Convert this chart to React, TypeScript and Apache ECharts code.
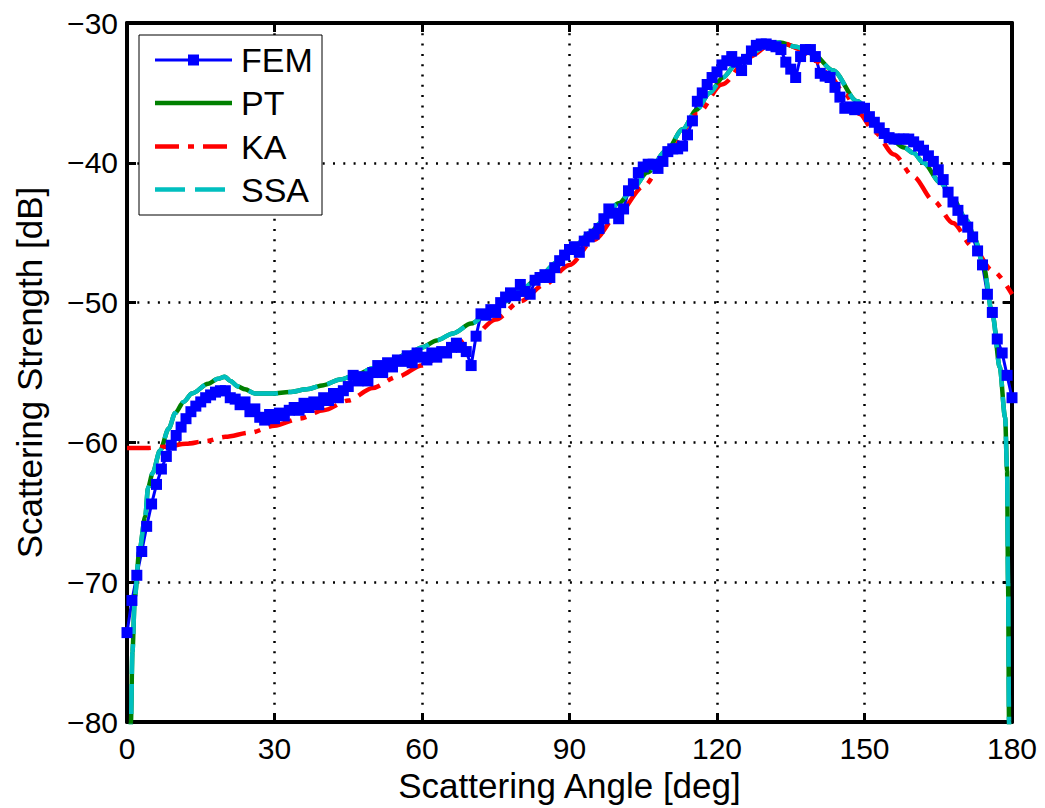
import React, { useEffect, useRef } from "react";
import * as echarts from "echarts";

// Scattering strength vs. scattering angle for four models.
const FONT = "'Liberation Sans', Arial, Helvetica, sans-serif";

const xTicks = [0, 30, 60, 90, 120, 150, 180];
const yTicks = [-80, -70, -60, -50, -40, -30];

// FEM: sampled every degree from 0 to 180
const femAngles: number[] = Array.from({ length: 181 }, (_, i) => i);
const femValues = [
  -73.6, -71.3, -69.5, -67.8, -66.0, -64.4, -63.0, -61.9, -61.0, -60.2,
  -59.5, -58.9, -58.3, -57.8, -57.4, -57.1, -56.8, -56.6, -56.4, -56.3,
  -56.3, -56.8, -56.9, -57.3, -57.1, -57.8, -57.6, -58.2, -58.4, -58.0,
  -58.3, -57.9, -58.1, -57.7, -57.5, -57.7, -57.2, -57.5, -57.1, -57.3,
  -56.8, -57.0, -56.5, -56.8, -56.3, -56.0, -55.2, -55.6, -55.3, -55.6,
  -55.0, -54.5, -55.0, -54.3, -54.6, -54.1, -54.2, -53.8, -54.3, -53.6,
  -53.9, -54.1, -53.6, -53.9, -53.5, -53.6, -53.2, -52.9, -53.2, -53.5,
  -54.5, -52.4, -50.8, -50.9, -50.5, -50.7, -50.0, -49.6, -49.3, -49.5,
  -48.7, -49.2, -49.4, -48.4, -48.2, -48.0, -48.2, -47.5, -47.0, -46.6,
  -46.2, -46.0, -46.4, -45.6, -45.3, -45.1, -44.7, -44.0, -43.3, -43.6,
  -44.0, -43.3, -42.0, -41.5, -40.7, -40.3, -40.1, -40.1, -40.4, -39.9,
  -39.2, -39.0, -39.0, -38.8, -38.0, -37.0, -35.6, -35.0, -34.4, -33.9,
  -33.5, -33.0, -32.7, -32.4, -32.8, -33.4, -32.6, -32.0, -31.6, -31.5,
  -31.5, -31.6, -31.7, -31.9, -32.8, -33.3, -33.9, -32.4, -31.9, -31.9,
  -32.4, -33.6, -33.8, -33.9, -34.6, -35.3, -36.1, -36.0, -36.2, -36.0,
  -36.1, -36.7, -37.1, -37.5, -37.9, -38.2, -38.3, -38.3, -38.3, -38.3,
  -38.5, -38.8, -39.1, -39.5, -39.9, -40.5, -41.2, -42.1, -42.8, -43.4,
  -44.1, -44.6, -45.3, -46.3, -47.3, -49.4, -50.7, -52.6, -53.6, -55.2,
  -56.8,
];

// PT (perturbation theory)
const ptAngles = [
  0.5, 0.8, 1.1, 1.6, 2.5, 3.7, 4.3, 5.2, 6.7, 8.5, 9.8, 11.5, 13.2, 16.5,
  18.5, 19.9, 21, 22.6, 24, 26, 29.7, 33, 36.6, 40, 43.3, 47, 50, 53.5, 56.9,
  60, 63, 66.3, 70, 73.8, 77, 80.5, 84, 87.5, 91, 94.2, 96.3, 100, 103, 105.8,
  109.8, 113, 115.9, 118.5, 121.2, 124, 127.3, 130, 132.8, 136, 139.5, 143.6,
  148.5, 153.8, 156, 158, 160, 162, 165.4, 168, 170.8, 172.5, 174.1, 176.1,
  177.5, 178.6, 179.0, 179.2, 179.4, 179.6,
];
const ptValues = [
  -88, -80, -75, -71, -67.8, -65.3, -63.2, -62.2, -60.6, -59.0, -57.9, -57.1,
  -56.5, -55.8, -55.45, -55.3, -55.6, -56.0, -56.2, -56.5, -56.5, -56.4,
  -56.2, -55.9, -55.5, -55.1, -54.7, -54.2, -53.7, -53.2, -52.7, -52.2, -51.5,
  -50.6, -49.9, -49.0, -48.1, -47.1, -46.0, -45.0, -44.3, -42.9, -41.8, -40.7,
  -39.1, -37.6, -36.2, -35.0, -33.9, -32.9, -32.1, -31.6, -31.4, -31.7, -32.2,
  -33.4, -35.6, -37.8, -38.5, -38.9, -39.3, -40.0, -41.4, -42.6, -44.1, -45.5,
  -47.2, -51.0, -54.6, -58.2, -62.0, -70.0, -80.0, -90.0,
];

// KA (Kirchhoff approximation)
const kaAngles = [
  0, 4, 8, 12, 16, 20, 25, 30, 35, 40, 45, 50, 55, 60, 65, 70, 75, 80, 85, 90,
  95, 100, 105, 110, 116, 121, 126.7, 131, 134, 137, 140, 143, 146, 149, 152,
  156, 160, 164, 168, 172, 176, 180,
];
const kaValues = [
  -60.4, -60.4, -60.3, -60.1, -59.9, -59.6, -59.3, -58.8, -58.3, -57.7, -57.0,
  -56.1, -55.3, -54.5, -53.5, -52.5, -51.2, -49.9, -48.7, -47.3, -45.5, -43.6,
  -41.7, -39.4, -36.5, -34.4, -32.4, -31.5, -31.5, -31.9, -32.7, -33.8, -35.1,
  -36.5, -37.8, -39.4, -41.0, -42.7, -44.3, -46.0, -47.7, -49.4,
];

// SSA (small slope approximation)
const ssaAngles = [...ptAngles];
const ssaValues = [
  -88, -80, -75, -71, -67.8, -65.3, -63.2, -62.2, -60.6, -59.0, -57.9, -57.1,
  -56.5, -55.8, -55.45, -55.3, -55.6, -56.0, -56.2, -56.5, -56.5, -56.4,
  -56.2, -55.9, -55.5, -55.1, -54.7, -54.2, -53.7, -53.2, -52.7, -52.2, -51.5,
  -50.6, -49.9, -49.0, -48.1, -47.1, -46.0, -45.0, -44.3, -42.9, -41.8, -40.7,
  -39.1, -37.6, -36.2, -35.0, -33.9, -32.9, -32.1, -31.6, -31.4, -31.7, -32.2,
  -33.4, -35.6, -37.8, -38.5, -38.9, -39.3, -40.0, -41.4, -42.6, -44.1, -45.5,
  -47.2, -51.0, -54.6, -58.2, -62.0, -70.0, -80.0, -90.0,
];

const legendNames = ["FEM", "PT", "KA", "SSA"];
const COLORS = { FEM: "#0000ff", PT: "#008000", KA: "#ff0000", SSA: "#00bfbf" };
const KA_DASH = [24, 9, 6, 9];
const SSA_DASH = [30, 10];
const CURVE_WIDTH = 4.5;

const pairs = (xs: number[], ys: number[]) => xs.map((x, i) => [x, ys[i]]);

const minus = (v: number) => (v < 0 ? "\u2212" + Math.abs(v) : String(v));

function boxAxis(position: string, isX: boolean, main: boolean): any {
  const ticks = isX ? xTicks : yTicks;
  return {
    type: "value",
    position,
    min: ticks[0],
    max: ticks[ticks.length - 1],
    interval: ticks[1] - ticks[0],
    axisLine: { show: true, onZero: false, lineStyle: { color: "#000", width: 4 } },
    axisTick: { show: true, inside: true, length: 9, lineStyle: { color: "#000", width: 3 } },
    axisLabel: main
      ? {
          show: true,
          color: "#000",
          fontSize: 30,
          fontFamily: FONT,
          margin: isX ? 11 : 9,
          formatter: (v: number) => minus(v),
        }
      : { show: false },
    splitLine: main
      ? { show: true, lineStyle: { color: "#000", width: 2.5, type: [2, 8.3] } }
      : { show: false },
    ...(main
      ? {
          name: isX ? "Scattering Angle [deg]" : "Scattering Strength [dB]",
          nameLocation: "middle",
          nameGap: isX ? 43 : 80,
          nameTextStyle: { color: "#000", fontSize: 35, fontFamily: FONT },
        }
      : {}),
  };
}

function legendGraphic(): any[] {
  const left = 139;
  const top = 35;
  const rowY = [60, 103, 146.5, 189.5];
  const x1 = 155;
  const x2 = 232;
  const els: any[] = [
    {
      type: "rect",
      z: 100,
      shape: { x: left, y: top, width: 183, height: 180 },
      style: { fill: "#fff", stroke: "#000", lineWidth: 1 },
    },
  ];
  legendNames.forEach((name, i) => {
    const y = rowY[i];
    const color = (COLORS as any)[name];
    const dash = name === "KA" ? KA_DASH : name === "SSA" ? SSA_DASH : null;
    els.push({
      type: "line",
      z: 101,
      shape: { x1, y1: y, x2, y2: y },
      style: {
        stroke: color,
        lineWidth: name === "FEM" ? 3 : CURVE_WIDTH,
        lineDash: dash || undefined,
      },
    });
    if (name === "FEM") {
      els.push({
        type: "rect",
        z: 102,
        shape: { x: (x1 + x2) / 2 - 5.5, y: y - 5.5, width: 11, height: 11 },
        style: { fill: color },
      });
    }
    els.push({
      type: "text",
      z: 102,
      x: 241,
      y,
      style: {
        text: name,
        fill: "#000",
        fontSize: 34,
        fontFamily: FONT,
        verticalAlign: "middle",
        align: "left",
      },
    });
  });
  return els;
}

export default function App() {
  const ref = useRef<HTMLDivElement>(null);

  useEffect(() => {
    if (!ref.current) return;
    const chart = echarts.init(ref.current, undefined, { renderer: "svg" });
    chart.setOption({
      animation: false,
      backgroundColor: "#fff",
      textStyle: { fontFamily: FONT },
      grid: { left: 127, right: 33, top: 23, bottom: 85, containLabel: false },
      xAxis: [boxAxis("bottom", true, true), boxAxis("top", true, false)],
      yAxis: [boxAxis("left", false, true), boxAxis("right", false, false)],
      series: [
        {
          name: "FEM",
          type: "line",
          data: pairs(femAngles, femValues),
          symbol: "rect",
          symbolSize: 11,
          showSymbol: true,
          lineStyle: { color: COLORS.FEM, width: 3 },
          itemStyle: { color: COLORS.FEM },
        },
        {
          name: "PT",
          type: "line",
          data: pairs(ptAngles, ptValues),
          showSymbol: false,
          smooth: 0.3,
          smoothMonotone: "x",
          lineStyle: { color: COLORS.PT, width: CURVE_WIDTH },
        },
        {
          name: "KA",
          type: "line",
          data: pairs(kaAngles, kaValues),
          showSymbol: false,
          smooth: 0.3,
          smoothMonotone: "x",
          lineStyle: { color: COLORS.KA, width: CURVE_WIDTH, type: KA_DASH },
        },
        {
          name: "SSA",
          type: "line",
          data: pairs(ssaAngles, ssaValues),
          showSymbol: false,
          smooth: 0.3,
          smoothMonotone: "x",
          lineStyle: { color: COLORS.SSA, width: CURVE_WIDTH, type: SSA_DASH },
        },
      ],
      graphic: legendGraphic(),
    });
    return () => chart.dispose();
  }, []);

  return (
    <div
      ref={ref}
      style={{ position: "fixed", left: 0, top: 0, width: 1045, height: 808 }}
    />
  );
}
